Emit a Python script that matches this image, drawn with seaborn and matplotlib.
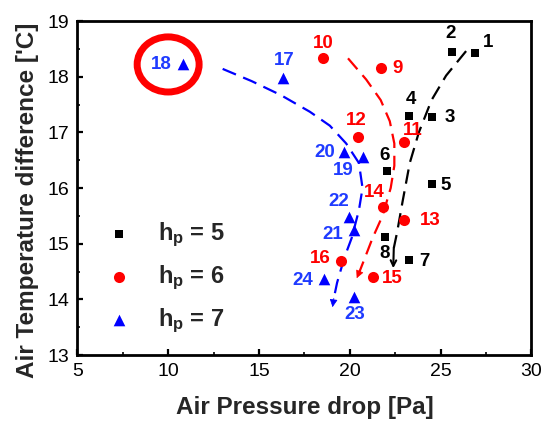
import numpy as np
import pandas as pd
import matplotlib
matplotlib.use("Agg")
import matplotlib.pyplot as plt
from matplotlib.patches import Ellipse
from matplotlib.ticker import MultipleLocator
import seaborn as sns

# ---------------- data ----------------
hp5_x = [26.89, 25.60, 24.54, 23.27, 24.54, 22.03, 23.25, 21.93]
hp5_y = [18.42, 18.44, 17.27, 17.29, 16.07, 16.31, 14.71, 15.12]
hp5_ids = [1, 2, 3, 4, 5, 6, 7, 8]

hp6_x = [21.70, 18.54, 22.98, 20.47, 23.00, 21.81, 21.26, 19.50]
hp6_y = [18.16, 18.33, 16.83, 16.92, 15.43, 15.66, 14.40, 14.68]
hp6_ids = [9, 10, 11, 12, 13, 14, 15, 16]

hp7_x = [16.34, 10.83, 20.71, 19.69, 20.23, 19.97, 20.23, 18.59]
hp7_y = [17.97, 18.22, 16.55, 16.64, 15.25, 15.48, 14.04, 14.36]
hp7_ids = [17, 18, 19, 20, 21, 22, 23, 24]

hp_values = [5, 6, 7]

# trend guide curves
black_curve_x = [26.40, 25.30, 24.50, 23.80, 23.30, 22.90, 22.60, 22.42]
black_curve_y = [18.46, 18.02, 17.58, 17.00, 16.45, 15.75, 15.20, 14.92]
black_arrow_tip = (22.39, 14.56)

red_curve_x = [19.90, 20.90, 21.70, 22.20, 22.45, 22.45, 22.25, 21.80, 21.25, 20.80, 20.50]
red_curve_y = [18.33, 17.95, 17.58, 17.20, 16.80, 16.40, 16.00, 15.50, 15.10, 14.72, 14.47]
red_arrow_tip = (20.38, 14.38)

blue_curve_x = [13.00, 14.60, 16.20, 17.80, 18.90, 19.80, 20.50, 20.70, 20.50, 20.10, 19.70, 19.30, 19.12]
blue_curve_y = [18.14, 17.92, 17.67, 17.37, 17.12, 16.80, 16.45, 16.00, 15.60, 15.10, 14.75, 14.30, 14.02]
blue_arrow_tip = (19.05, 13.86)

highlight_center = (10.0, 18.22)

x_label = "Air Pressure drop [Pa]"
y_label = "Air Temperature difference ['C]"
legend_labels = ["$h_p$ = 5", "$h_p$ = 6", "$h_p$ = 7"]

# ---------------- styles ----------------
RED = "#ff0000"
BLUE = "#0000ff"
BLUE_TXT = "#1f3bff"
BLACK = "#000000"

label_offsets_px = {
    1: (13.3, -10.7), 2: (-1.0, -18.3), 3: (17.7, 0.0), 4: (1.3, -16.7),
    5: (13.7, 1.3), 6: (-1.7, -15.3), 7: (16.0, 1.7), 8: (-0.7, 16.7),
    9: (16.7, 0.7), 10: (0.0, -15.0), 11: (8.7, -11.7), 12: (-1.7, -16.7),
    13: (25.7, 0.7), 14: (-8.7, -14.0), 15: (20.0, 1.7), 16: (-20.0, -2.7),
    17: (0.7, -17.5), 18: (-21.7, 0.0), 19: (-19.3, 13.3), 20: (-19.3, 0.0),
    21: (-21.3, 5.0), 22: (-11.0, -15.7), 23: (1.0, 17.7), 24: (-21.7, 1.3),
}

sns.set_style("ticks")
plt.rcParams["font.family"] = ["Liberation Sans", "DejaVu Sans"]
plt.rcParams["mathtext.fontset"] = "custom"
plt.rcParams["mathtext.rm"] = "Liberation Sans:bold"
plt.rcParams["mathtext.it"] = "Liberation Sans:bold"
plt.rcParams["mathtext.bf"] = "Liberation Sans:bold"
plt.rcParams["mathtext.default"] = "rm"

fig = plt.figure(figsize=(5.51, 4.24), dpi=100)
ax = fig.add_axes([0.1403, 0.1627, 0.8243, 0.7877])

frames = []
for hp, xs, ys, ids in zip(hp_values, [hp5_x, hp6_x, hp7_x], [hp5_y, hp6_y, hp7_y],
                           [hp5_ids, hp6_ids, hp7_ids]):
    frames.append(pd.DataFrame({"hp": hp, "x": xs, "y": ys, "id": ids}))
df = pd.concat(frames, ignore_index=True)

# guide curves
dash = (6.5, 3.5)
for cx, cy, col in [(black_curve_x, black_curve_y, BLACK),
                    (red_curve_x, red_curve_y, RED),
                    (blue_curve_x, blue_curve_y, BLUE)]:
    cdf = pd.DataFrame({"x": cx, "y": cy})
    sns.lineplot(data=cdf, x="x", y="y", sort=False, estimator=None, ax=ax,
                 color=col, lw=1.6, dashes=False, zorder=2)
    ax.lines[-1].set_dashes(dash)

# arrow heads
ax.annotate("", xy=black_arrow_tip, xytext=(black_curve_x[-1], black_curve_y[-1]),
            arrowprops=dict(arrowstyle="->", color=BLACK, lw=1.5, mutation_scale=10,
                            shrinkA=0, shrinkB=0), zorder=3)
ax.annotate("", xy=red_arrow_tip, xytext=(red_curve_x[-1], red_curve_y[-1]),
            arrowprops=dict(arrowstyle="-|>", color=RED, lw=0.5, mutation_scale=12,
                            shrinkA=0, shrinkB=0), zorder=3)
ax.annotate("", xy=blue_arrow_tip, xytext=(blue_curve_x[-1], blue_curve_y[-1]),
            arrowprops=dict(arrowstyle="-|>", color=BLUE, lw=0.5, mutation_scale=12,
                            shrinkA=0, shrinkB=0), zorder=3)

# scatter points
marker_map = {5: "s", 6: "o", 7: "^"}
color_map = {5: BLACK, 6: RED, 7: BLUE}
size_map = {5: 36, 6: 64, 7: 70}
txt_color = {5: BLACK, 6: RED, 7: BLUE_TXT}
for hp, lab in zip(hp_values, legend_labels):
    sub = df[df["hp"] == hp]
    sns.scatterplot(data=sub, x="x", y="y", marker=marker_map[hp], color=color_map[hp],
                    s=size_map[hp], linewidth=0, ax=ax, label=lab, zorder=4)

# point labels
for _, r in df.iterrows():
    dx, dy = label_offsets_px[int(r["id"])]
    ax.annotate(str(int(r["id"])), (r["x"], r["y"]), xytext=(dx * 0.72, -dy * 0.72),
                textcoords="offset points", ha="center", va="center",
                fontsize=13.5, fontweight="bold", color=txt_color[int(r["hp"])], zorder=5)

# highlight ellipse
ax.add_patch(Ellipse(highlight_center, width=3.41, height=0.99, fill=False,
                     edgecolor=RED, lw=5, zorder=5))

# axes
ax.set_xlim(5, 30)
ax.set_ylim(13, 19)
ax.xaxis.set_major_locator(MultipleLocator(5))
ax.xaxis.set_minor_locator(MultipleLocator(2.5))
ax.yaxis.set_major_locator(MultipleLocator(1))
ax.yaxis.set_minor_locator(MultipleLocator(0.5))
ax.tick_params(which="major", direction="in", length=4, width=1.6, labelsize=14, pad=6,
               colors=BLACK)
ax.tick_params(which="minor", direction="in", length=2.5, width=1.4)
for sp in ax.spines.values():
    sp.set_visible(True)
    sp.set_linewidth(2.0)
    sp.set_color(BLACK)

ax.set_xlabel(x_label, fontsize=17.5, fontweight="bold")
ax.set_ylabel(y_label, fontsize=17.5, fontweight="bold")
ax.xaxis.set_label_coords(0.5, -0.124)
ax.yaxis.set_label_coords(-0.085, 0.464)

handles, labels = ax.get_legend_handles_labels()
ax.legend(handles, labels, loc="center left", bbox_to_anchor=(107.2 / 551, 1 - 277.7 / 424),
          bbox_transform=fig.transFigure, frameon=False,
          prop={"size": 17, "weight": "bold"}, handlelength=1.0,
          handletextpad=1.15, labelspacing=0.62, borderpad=0, borderaxespad=0)

fig.savefig("out.png", dpi=100)
